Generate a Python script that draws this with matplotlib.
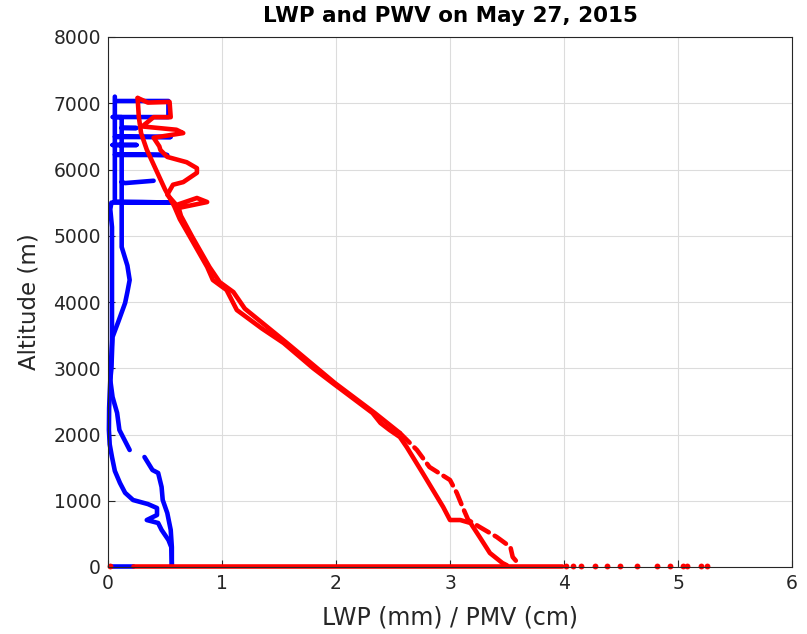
import numpy as np
import matplotlib
matplotlib.use("Agg")
import matplotlib.pyplot as plt

nan = np.nan

# ---- LWP (mm) profile, first pass ----
lwp1_x = [0.56, 0.555, 0.53, 0.47, 0.44, 0.34, 0.43, 0.43, 0.35, 0.22, 0.15, 0.105, 0.06, 0.035,
          0.015, 0.008, 0.01, 0.015, 0.025, 0.035, 0.035, 0.035, 0.02, 0.03, 0.55, 0.30, 0.06,
          0.06, 0.06, 0.52, 0.30, 0.06, 0.06, 0.55, 0.30, 0.06, 0.06, 0.06]
lwp1_alt = [25, 300, 408, 560, 664, 709, 785, 890, 950, 1011, 1120, 1268, 1450, 1660,
            1850, 2068, 2400, 2620, 3000, 3430, 4200, 5130, 5400, 5500, 5500, 5510, 5515,
            5810, 6219, 6219, 6225, 6230, 6490, 6490, 6495, 6500, 6792, 7100]

# ---- LWP (mm) profile, second pass ----
lwp2_x = [0.08, 0.53, 0.53, 0.22, 0.04, 0.12, 0.12, 0.25, 0.12, 0.12, 0.04, 0.25, 0.12, 0.12,
          0.15, 0.40, nan, 0.12, 0.12, 0.12, 0.17, 0.19, 0.17, 0.15, 0.09, 0.04, 0.03, 0.02,
          0.04, 0.08, 0.10, 0.19, nan, 0.32, 0.39, 0.44, 0.47, 0.48, 0.52, 0.55, 0.56, 0.56]
lwp2_alt = [7034, 7034, 6790, 6792, 6792, 6790, 6626, 6626, 6630, 6370, 6370, 6370, 6370, 5811,
            5795, 5830, nan, 5811, 5430, 4830, 4550, 4332, 4150, 3985, 3700, 3472, 3000, 2823,
            2566, 2325, 2068, 1766, nan, 1660, 1464, 1419, 1208, 1011, 815, 560, 300, 25]

# ---- PWV (cm) profile, first pass ----
pwv1_x = [3.50, 3.46, 3.35, 3.26, 3.18, 3.09, 3.00, 2.94, 2.85, 2.76, 2.62, 2.56, 2.47, 2.39,
          2.32, 2.20, 1.97, 1.80, 1.54, 1.35, 1.13, 1.04, 0.92, 0.87, 0.72, 0.63, 0.58, 0.50,
          0.42, 0.34, 0.29, 0.27, 0.26]
pwv1_alt = [25, 60, 211, 453, 664, 709, 709, 906, 1162, 1419, 1811, 1962, 2068, 2174,
            2325, 2480, 2777, 3000, 3381, 3600, 3879, 4181, 4332, 4528, 4981, 5250, 5450, 5700,
            6000, 6300, 6550, 6800, 7080]

# ---- PWV (cm) profile, second pass (upper part) ----
pwv2_x = [0.26, 0.35, 0.54, 0.55, 0.40, 0.30, 0.60, 0.66, 0.40, 0.45, 0.46, 0.52, 0.69, 0.78,
          0.78, 0.66, 0.57, 0.52, 0.60, 0.78, 0.87, 0.62, 0.64, 0.74, 0.89, 0.98, 1.10, 1.20,
          1.57, 1.99, 2.34, 2.56]
pwv2_alt = [7080, 7010, 7020, 6790, 6790, 6650, 6600, 6550, 6480, 6350, 6294, 6190, 6110, 6020,
            5950, 5810, 5770, 5620, 5464, 5570, 5509, 5420, 5300, 4981, 4528, 4300, 4150, 3900,
            3381, 2777, 2325, 2023]

# ---- PWV (cm) profile, second pass (lower part) ----
pwv3_x = [2.56, 2.71, 2.82, 3.00, 3.06, 3.11, 3.16, 3.26, 3.41, 3.53, 3.55, 3.61]
pwv3_alt = [2023, 1766, 1509, 1313, 1117, 906, 709, 604, 453, 302, 151, 30]

# ---- surface samples ----
lwp_sfc_x = [0.02, 0.22]
lwp_sfc_alt = [20, 20]
pwv_sfc_x = [0.22, 3.98]
pwv_sfc_alt = [20, 20]
pwv_sfc_dots_x = [0.02, 4.02, 4.08, 4.15, 4.27, 4.38, 4.49, 4.64, 4.82, 4.93, 5.04, 5.08, 5.20, 5.25]
pwv_sfc_dots_alt = [20] * len(pwv_sfc_dots_x)

x_ticks = [0, 1, 2, 3, 4, 5, 6]
y_ticks = [0, 1000, 2000, 3000, 4000, 5000, 6000, 7000, 8000]

fig = plt.figure(figsize=(8.07, 6.34), dpi=100)
ax = fig.add_axes([108 / 807, 1 - 567 / 634, (792 - 108) / 807, (567 - 37) / 634])

lw = 3.3
blue = (0, 0, 1)
red = (1, 0, 0)
kw = dict(lw=lw, solid_capstyle='round', solid_joinstyle='round', clip_on=False)
ax.plot(lwp1_x, lwp1_alt, color=blue, **kw)
ax.plot(lwp2_x, lwp2_alt, color=blue, **kw)
ax.plot(lwp_sfc_x, lwp_sfc_alt, color=blue, **kw)

ax.plot(pwv1_x, pwv1_alt, color=red, **kw)
ax.plot(pwv2_x, pwv2_alt, color=red, **kw)
ax.plot(pwv3_x, pwv3_alt, color=red, lw=lw, linestyle=(0, (3, 1.5)),
        dash_capstyle='round', clip_on=False)
ax.plot(pwv_sfc_x, pwv_sfc_alt, color=red, **kw)
ax.plot(pwv_sfc_dots_x, pwv_sfc_dots_alt, linestyle='none', marker='o', ms=4.2,
        mec='none', color=red, clip_on=False)

ax.set_xlim(0, 6)
ax.set_ylim(0, 8000)
ax.set_xticks(x_ticks)
ax.set_yticks(y_ticks)
ax.grid(True, color='#dcdcdc', lw=0.8)
ax.set_axisbelow(True)
for s in ax.spines.values():
    s.set_color('#262626')
    s.set_linewidth(0.8)
ax.tick_params(direction='in', length=5, width=0.8, colors='#262626', labelsize=13.5,
               top=False, right=False, pad=5)
ax.set_title('LWP and PWV on May 27, 2015', fontsize=15.5, fontweight='bold', pad=11)
ax.set_xlabel('LWP (mm) / PMV (cm)', fontsize=17, color='#262626', labelpad=9)
ax.set_ylabel('Altitude (m)', fontsize=16.5, color='#262626', labelpad=9)

fig.savefig('out.png', dpi=100)
